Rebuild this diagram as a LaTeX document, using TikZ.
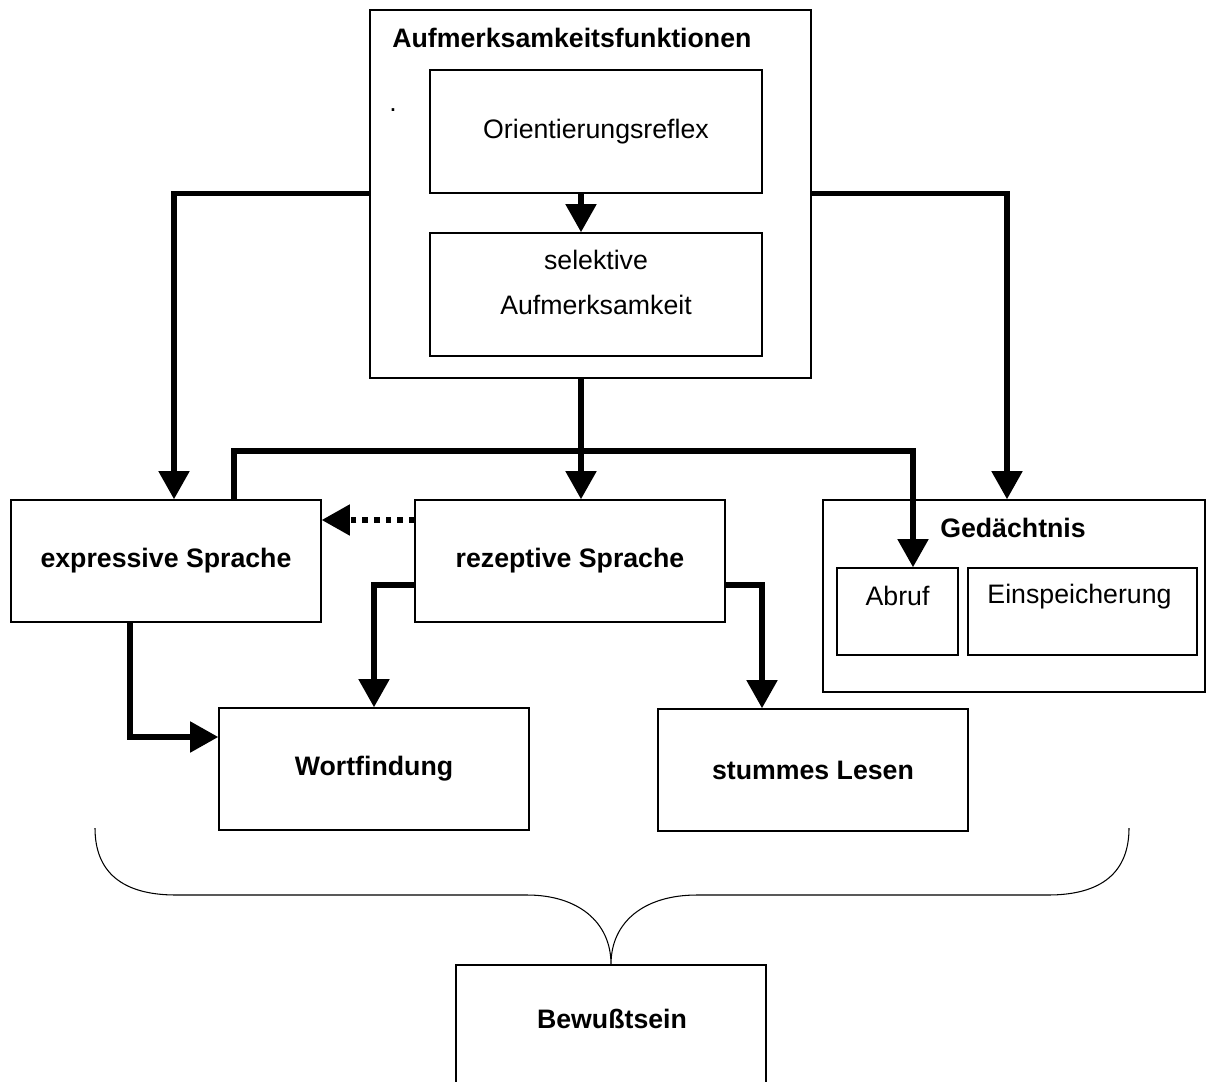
\documentclass[tikz,border=0pt]{standalone}
\usepackage{fontspec}
\setmainfont{Liberation Sans}
\usetikzlibrary{arrows.meta,calc}

\begin{document}
\begin{tikzpicture}[
		x=0.02cm, y=-0.02cm,
		every node/.style={font=\fontsize{15.2}{18}\selectfont},
		box/.style={draw, line width=0.85pt, inner sep=0pt},
		innen/.style={box, minimum width=6.64cm, minimum height=2.46cm},
		sprache/.style={box, font=\fontsize{15.2}{18}\selectfont\bfseries, minimum width=6.2cm, minimum height=2.44cm},
		titel/.style={font=\fontsize{15.2}{18}\selectfont\bfseries, inner sep=0pt},
		pfeil/.style={line width=3.1pt, -{Triangle[width=17pt,length=16pt]}},
		punktpfeil/.style={pfeil, dash pattern=on 3.1pt off 3.5pt}
	]
	\clip (0,0) rectangle (1209,1081);

	% Aufmerksamkeitsfunktionen
	\node[box, minimum width=8.82cm, minimum height=7.36cm] (aufm) at (590.5,194) {};
	\node[titel, anchor=west] (aufmtitel) at (392,38) {Aufmerksamkeitsfunktionen};
	\node[inner sep=0pt] (punkt) at (393,110) {.};
	\node[innen] (orient) at (596,131.5) {Orientierungsreflex};
	\node[innen, align=center, font=\fontsize{15.2}{26}\selectfont, text depth=14pt] (selekt) at (596,294.5) {selektive\\Aufmerksamkeit};

	% Sprache und Gedaechtnis
	\node[sprache] (expr) at (166,561) {expressive Sprache};
	\node[sprache] (rezep) at (570,561) {rezeptive Sprache};
	\node[box, minimum width=7.64cm, minimum height=3.84cm] (ged) at (1014,596) {};
	\node[titel] (gedtitel) at (1013,528) {Gedächtnis};
	\node[box, minimum width=2.42cm, minimum height=1.74cm] (abruf) at (897.5,611.5) {};
	\node (abruftext) at ($(abruf.north)+(0,29)$) {Abruf};
	\node[box, minimum width=4.58cm, minimum height=1.74cm] (einsp) at (1082.5,611.5) {};
	\node (einsptext) at ($(einsp.north)+(-3,29)$) {Einspeicherung};

	\node[sprache] (wort) at (374,769) {Wortfindung};
	\node[sprache] (stumm) at (813,770) {stummes Lesen};

	% Bewusstsein
	\node[box, minimum width=6.2cm, minimum height=2.9cm] (bew) at (611,1037.5) {};
	\node[titel] (bewtext) at ($(bew.north)+(1,55)$) {Bewußtsein};

	% Verbindungen
	\coordinate (achse) at (581,0);
	\coordinate (leiste) at (0,451);
	\coordinate (exprab) at ($(expr.north)+(68,0)$);
	\coordinate (rezepl) at ($(rezep.west)+(0,-41)$);
	\draw[pfeil] (orient.south -| achse) -- (selekt.north -| achse);
	\draw[pfeil] (aufm.west |- orient.south) -| ($(expr.north)+(8,0)$);
	\draw[pfeil] (aufm.east |- orient.south) -| ($(ged.north)+(-7,0)$);
	\draw[pfeil] (aufm.south -| achse) -- (rezep.north -| achse);
	\draw[pfeil] (exprab) -- (exprab |- leiste) -| ($(abruf.north)+(15.5,0)$);
	\draw[punktpfeil] (rezepl) -- (expr.east |- rezepl);
	\draw[pfeil] ($(rezep.west)+(0,24)$) -| (wort.north);
	\draw[pfeil] ($(rezep.east)+(0,24)$) -| ($(stumm.north)+(-51,0)$);
	\draw[pfeil] ($(expr.south)+(-36,0)$) |- ($(wort.west)+(0,-32)$);

	% Klammer
	\coordinate (klammerl) at (95,828);
	\coordinate (klammerr) at (1129,828);
	\draw[line width=0.6pt] (klammerl) .. controls (95,872) and (122,895) .. (176,895) -- (527,895)
		.. controls (578,895) and (611,922) .. (bew.north)
		.. controls (611,922) and (644,895) .. (697,895) -- (1048,895)
		.. controls (1102,895) and (1129,872) .. (klammerr);
\end{tikzpicture}
\end{document}
